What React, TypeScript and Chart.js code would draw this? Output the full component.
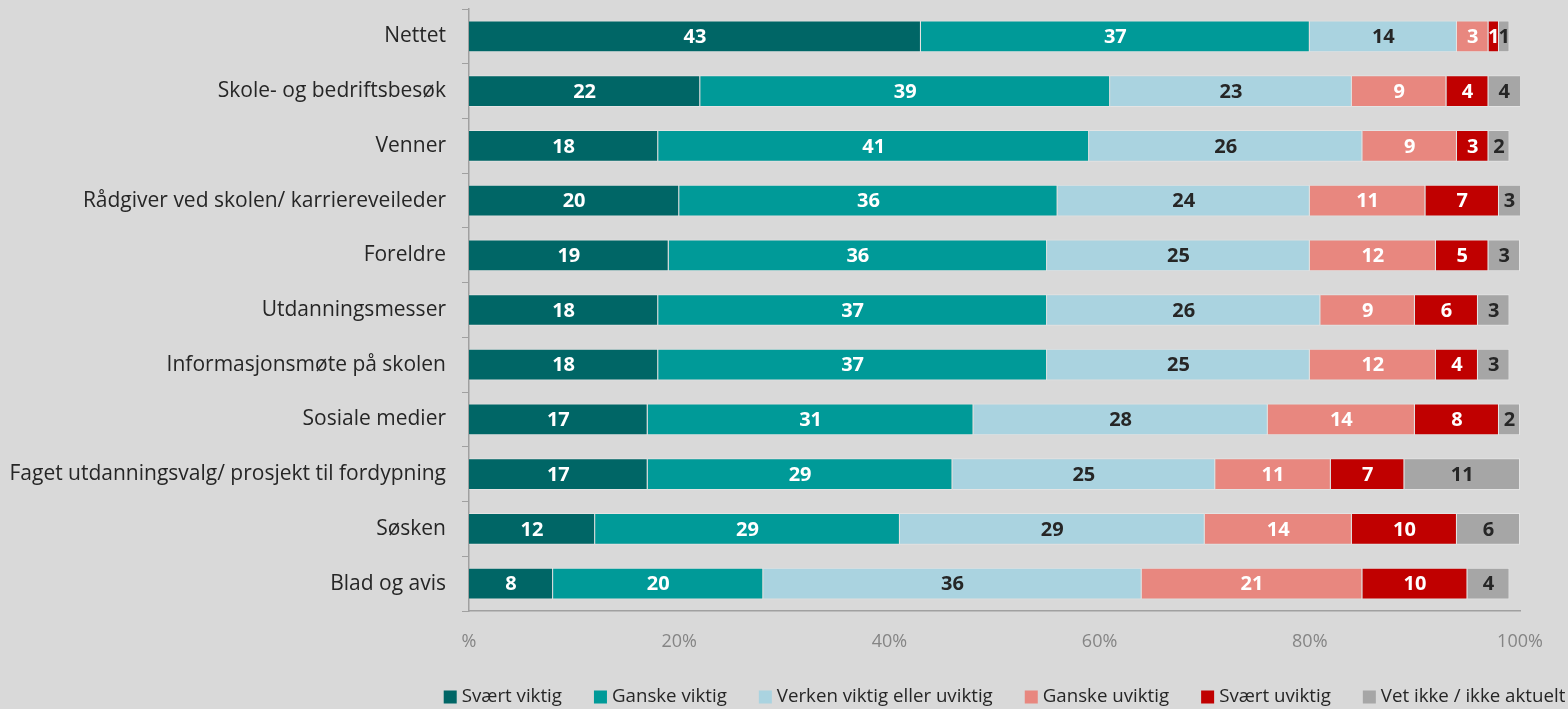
import React, { useEffect, useRef } from "react";
import { Chart, registerables } from "chart.js";

Chart.register(...registerables);

const categories = [
  "Nettet",
  "Skole- og bedriftsbesøk",
  "Venner",
  "Rådgiver ved skolen/ karriereveileder",
  "Foreldre",
  "Utdanningsmesser",
  "Informasjonsmøte på skolen",
  "Sosiale medier",
  "Faget utdanningsvalg/ prosjekt til fordypning",
  "Søsken",
  "Blad og avis",
];

const seriesNames = [
  "Svært viktig",
  "Ganske viktig",
  "Verken viktig eller uviktig",
  "Ganske uviktig",
  "Svært uviktig",
  "Vet ikke / ikke aktuelt",
];

const sværtViktig = [43, 22, 18, 20, 19, 18, 18, 17, 17, 12, 8];
const ganskeViktig = [37, 39, 41, 36, 36, 37, 37, 31, 29, 29, 20];
const verken = [14, 23, 26, 24, 25, 26, 25, 28, 25, 29, 36];
const ganskeUviktig = [3, 9, 9, 11, 12, 9, 12, 14, 11, 14, 21];
const sværtUviktig = [1, 4, 3, 7, 5, 6, 4, 8, 7, 10, 10];
const vetIkke = [1, 4, 2, 3, 3, 3, 3, 2, 11, 6, 4];

const xTickLabels = ["%", "20%", "40%", "60%", "80%", "100%"];

const seriesColors = ["#006666", "#009a98", "#aad3e0", "#e8877f", "#c00000", "#a6a6a6"];
const labelColors = ["#ffffff", "#ffffff", "#262626", "#ffffff", "#ffffff", "#262626"];

const FONT = "'Open Sans', sans-serif";

const dataLabelPlugin = {
  id: "dataLabels",
  afterDatasetsDraw(chart: any) {
    const ctx = chart.ctx;
    const area = chart.chartArea;
    ctx.save();
    ctx.font = `bold 20px ${FONT}`;
    ctx.textAlign = "center";
    ctx.textBaseline = "middle";
    chart.data.datasets.forEach((ds: any, di: number) => {
      const meta = chart.getDatasetMeta(di);
      meta.data.forEach((bar: any, i: number) => {
        const v = ds.data[i];
        if (v == null) return;
        const x1 = Math.max(Math.min(bar.base, bar.x), area.left);
        const x2 = Math.min(Math.max(bar.base, bar.x), area.right);
        const cx = (x1 + x2) / 2;
        ctx.fillStyle = labelColors[di];
        ctx.fillText(String(v), cx, bar.y + 1);
      });
    });
    ctx.restore();
  },
};

const legendPlugin = {
  id: "customLegend",
  afterDraw(chart: any) {
    const ctx = chart.ctx;
    const area = chart.chartArea;
    ctx.save();
    ctx.font = `18.7px ${FONT}`;
    ctx.textBaseline = "middle";
    ctx.textAlign = "left";
    const box = 13;
    const gapBox = 5;
    const gapItem = 32;
    const widths = seriesNames.map((n) => ctx.measureText(n).width);
    const total =
      widths.reduce((a, b) => a + b, 0) + seriesNames.length * (box + gapBox) + (seriesNames.length - 1) * gapItem;
    const center = (area.left + area.right) / 2 + 10;
    let x = center - total / 2;
    const y = 697;
    seriesNames.forEach((n, i) => {
      ctx.fillStyle = seriesColors[i];
      ctx.fillRect(x, y - box / 2, box, box);
      x += box + gapBox;
      ctx.fillStyle = "#262626";
      ctx.fillText(n, x, y);
      x += widths[i] + gapItem;
    });
    ctx.restore();
  },
};

export default function App() {
  const canvasRef = useRef<HTMLCanvasElement | null>(null);

  useEffect(() => {
    document.body.style.margin = "0";
    document.body.style.background = "#d9d9d9";
    const seriesData = [sværtViktig, ganskeViktig, verken, ganskeUviktig, sværtUviktig, vetIkke];
    const chart = new Chart(canvasRef.current as HTMLCanvasElement, {
      type: "bar",
      data: {
        labels: categories,
        datasets: seriesNames.map((name, i) => ({
          label: name,
          data: seriesData[i],
          backgroundColor: seriesColors[i],
          borderColor: "rgba(255,255,255,0.3)",
          borderWidth: 1,
          barPercentage: 0.58,
          categoryPercentage: 1,
        })),
      },
      options: {
        indexAxis: "y",
        animation: false,
        responsive: true,
        maintainAspectRatio: false,
        layout: { padding: { top: 9, right: 48, bottom: 58, left: 0 } },
        plugins: {
          legend: { display: false },
          tooltip: { enabled: false },
        },
        scales: {
          x: {
            stacked: true,
            min: 0,
            max: 100,
            afterFit(scale: any) {
              scale.height = 40;
              scale.paddingLeft = 0;
              scale.paddingRight = 0;
            },
            grid: { display: false },
            border: { display: true, color: "#a0a0a0", width: 1.5 },
            ticks: {
              stepSize: 20,
              padding: 12,
              color: "#858585",
              font: { family: FONT, size: 18 },
              callback: (_v: any, idx: number) => xTickLabels[idx],
            },
          },
          y: {
            stacked: true,
            afterFit(scale: any) {
              scale.width = 469;
              scale.paddingTop = 0;
              scale.paddingBottom = 0;
            },
            grid: {
              display: true,
              drawOnChartArea: false,
              drawTicks: true,
              tickLength: 7,
              color: "#a0a0a0",
              offset: true,
            },
            border: { display: true, color: "#a0a0a0", width: 1.5 },
            ticks: {
              padding: 16,
              color: "#262626",
              font: { family: FONT, size: 21 },
            },
          },
        },
      },
      plugins: [dataLabelPlugin, legendPlugin],
    } as any);
    return () => chart.destroy();
  }, []);

  return (
    <div style={{ position: "fixed", left: 0, top: 0, width: 1568, height: 709, background: "#d9d9d9" }}>
      <canvas ref={canvasRef} />
    </div>
  );
}
